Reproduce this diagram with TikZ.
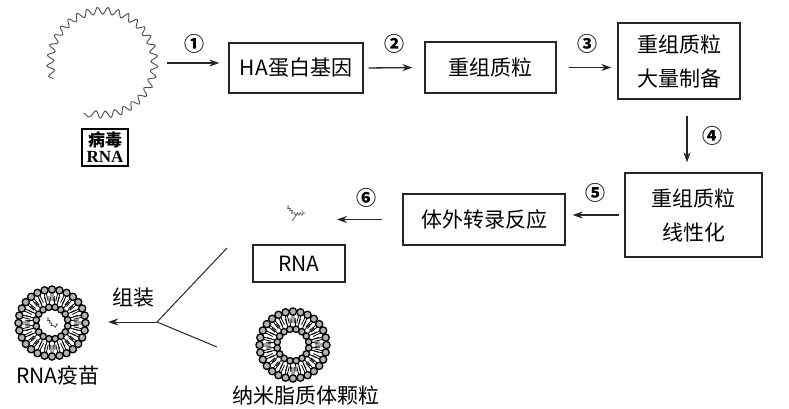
\documentclass[tikz,border=0pt]{standalone}
\usepackage{fontspec}
\setmainfont{Noto Sans CJK SC}
\newfontfamily\rnafont{Liberation Serif}
\usetikzlibrary{arrows.meta,decorations.pathmorphing}

\tikzset{
  lipid/.pic={
    \foreach \i in {1,...,28}{
      \pgfmathsetmacro\a{\i*360/28}
      \draw[line width=0.8] (\a-2:30) -- (\a-3:22);
      \draw[line width=0.8] (\a+2:30) -- (\a+3:22);
      \filldraw[fill=black!30, line width=1.3] (\a:33.5) circle (3.6);
    }
    \foreach \i in {1,...,16}{
      \pgfmathsetmacro\a{\i*360/16+11}
      \draw[line width=0.8] (\a-4:19) -- (\a-5:27);
      \draw[line width=0.8] (\a+4:19) -- (\a+5:27);
      \filldraw[fill=black!30, line width=1.3] (\a:16) circle (3.2);
    }
  }
}

\begin{document}
\begin{tikzpicture}[x=1pt, y=-1pt,
  box/.style={draw=black!85, line width=1.3pt, inner sep=0pt, align=center, font=\fontsize{21}{34}\selectfont},
  arr/.style={-{Stealth[length=10pt,width=7pt]}, line width=1.3pt, draw=black!85},
  num/.style={font=\fontsize{20}{20}\selectfont\bfseries},
  txt/.style={font=\fontsize{21}{26}\selectfont},
  wave/.style={decorate, decoration={snake, amplitude=3.5pt, segment length=10pt}, draw=black!70, line width=0.9pt}]
  \useasboundingbox (0,0) rectangle (789,408);

  % virus RNA
  \draw[wave] (52.8,78.5) arc[start angle=165, end angle=472, radius=52];
  \coordinate (rnaloop) at (160,63);
  \node[draw, line width=1.6pt, minimum width=46pt, minimum height=37pt, inner sep=0pt, align=center,
    font=\fontsize{17}{16}\selectfont\bfseries] (virus) at (105,147.5) {病毒\\{\rnafont RNA}};

  % boxes
  \node[box, minimum width=134pt, minimum height=50pt] (ha) at (296,68) {HA蛋白基因};
  \node[box, minimum width=131pt, minimum height=51pt] (plasmid) at (490.5,67.5) {重组质粒};
  \node[box, minimum width=122pt, minimum height=76pt] (bulk) at (679,61) {重组质粒\\大量制备};
  \node[box, minimum width=137pt, minimum height=84pt] (linear) at (693.5,215) {重组质粒\\线性化};
  \node[box, minimum width=162pt, minimum height=51pt] (ivt) at (484,219.5) {体外转录反应};
  \node[box, minimum width=92pt, minimum height=37pt] (rna) at (299,263.5) {RNA};

  % small RNA strand
  \coordinate (strand) at (330,218);
  \draw[black!60, line width=0.8pt, decorate, decoration={snake, amplitude=1.2pt, segment length=3pt}]
    (287,206) -- (293,213) -- (305,213);
  \draw[black!60, line width=0.8pt] (297,214) -- (292,221);

  % steps
  \draw[arr, shorten <=7pt, shorten >=9pt] (rnaloop) -- (rnaloop -| ha.west)
    node[num, midway, above=6pt] {①};
  \draw[arr, shorten <=5pt, shorten >=12pt] (ha.east) -- (plasmid.west)
    node[num, midway, above=10pt] {②};
  \draw[arr, shorten <=12pt, shorten >=6pt] (plasmid.east) -- (plasmid.east -| bulk.west)
    node[num, midway, above=10pt] {③};
  \draw[arr, shorten <=16pt, shorten >=10pt] ([xshift=8pt]bulk.south) -- ([xshift=8pt]bulk.south |- linear.north)
    node[num, midway, right=12pt] {④};
  \draw[arr, shorten <=5pt, shorten >=7pt] (linear.west) -- (linear.west -| ivt.east)
    node[num, midway, above=9pt] {⑤};
  \draw[arr, shorten <=20pt, shorten >=7pt] (ivt.west) -- (ivt.west -| strand)
    node[num, midway, above=8pt] {⑥};

  % assembly
  \pic at (52,323) {lipid};
  \draw[black!70, line width=0.8pt, decorate, decoration={snake, amplitude=1pt, segment length=3pt}]
    (47,318) -- (52,325) -- (58,324);
  \node[circle, minimum size=76pt, inner sep=0pt] (vaccine) at (52,323) {};
  \node[txt] (vacname) at (58,375) {RNA疫苗};
  \pic at (293,345) {lipid};
  \node[circle, minimum size=76pt, inner sep=0pt] (lipo) at (293,345) {};
  \node[txt] (liponame) at (306,395) {纳米脂质体颗粒};

  \coordinate (join) at (157,322);
  \coordinate (rnaleg) at (227,248);
  \coordinate (lipoleg) at (217,347);
  \draw[line width=1pt, black!85] (rnaleg) -- (join) -- (lipoleg);
  \draw[arr, line width=1pt, shorten >=18pt] (join) -- (join -| vaccine.east);
  \node[txt] (build) at (133,298) {组装};
\end{tikzpicture}
\end{document}
